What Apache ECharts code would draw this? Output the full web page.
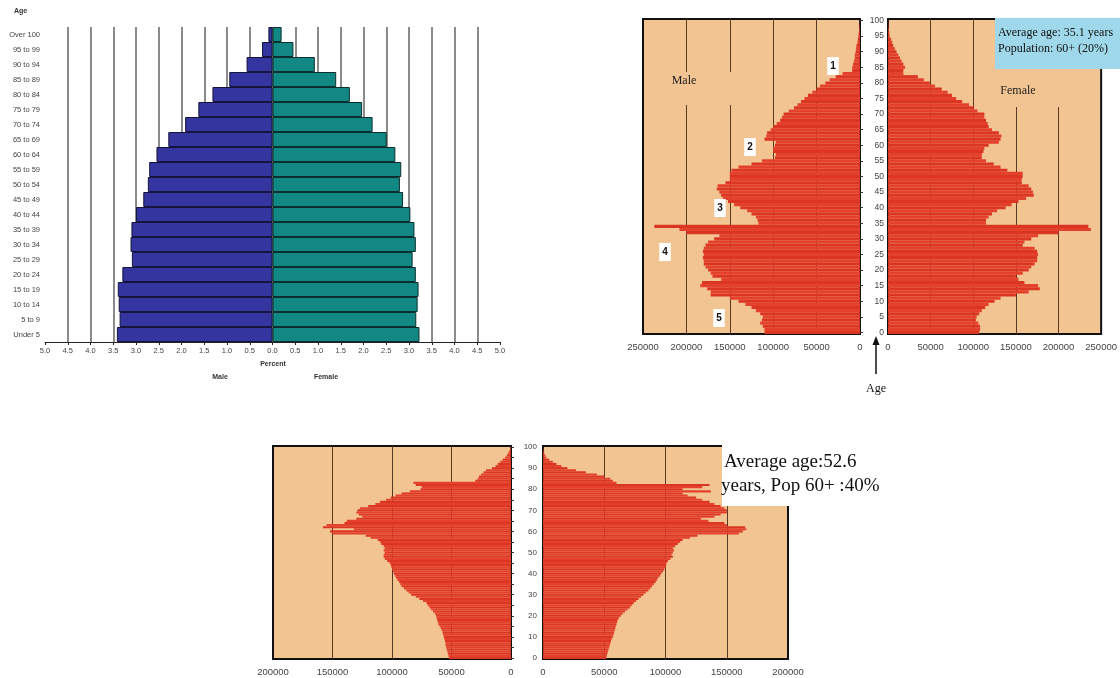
<!DOCTYPE html>
<html>
<head>
<meta charset="utf-8">
<script src="https://cdn.jsdelivr.net/npm/echarts@6/dist/echarts.min.js"></script>
<style>html,body{margin:0;padding:0;background:#fff}#c{width:1120px;height:678px}</style>
</head>
<body>
<div id="c"></div>
<script>
// ---------- Chart 1: percent pyramid (5-year groups) ----------
const ageGroups = ['Under 5','5 to 9','10 to 14','15 to 19','20 to 24','25 to 29','30 to 34','35 to 39','40 to 44','45 to 49','50 to 54','55 to 59','60 to 64','65 to 69','70 to 74','75 to 79','80 to 84','85 to 89','90 to 94','95 to 99','Over 100'];
const malePct   = [3.42,3.36,3.38,3.40,3.30,3.09,3.12,3.10,3.00,2.84,2.74,2.71,2.55,2.29,1.92,1.63,1.32,0.95,0.57,0.23,0.09];
const femalePct = [3.23,3.16,3.19,3.21,3.15,3.08,3.15,3.12,3.03,2.87,2.80,2.83,2.70,2.51,2.20,1.97,1.70,1.40,0.93,0.46,0.20];

// ---------- single-year ages 0..100 ----------
const singleAges = Array.from({length:101}, (_, i) => String(i));

// ---------- Chart 2: population by single year (avg age 35.1) ----------
const male2 = [110000,110000,112000,115000,113000,112000,115000,120000,125000,132000,
  140000,150000,172000,172000,176000,184000,182000,160000,170000,172000,
  175000,178000,180000,180000,181000,180000,181000,180000,178000,175000,
  168000,162000,200000,208000,237000,117000,118000,120000,125000,130000,
  138000,145000,152000,158000,160000,162000,165000,164000,155000,150000,
  150000,150000,148000,140000,125000,113000,98000,97000,100000,100000,
  98000,97000,110000,108000,107000,103000,100000,96000,92000,90000,
  88000,82000,76000,72000,68000,64000,60000,55000,50000,46000,
  40000,35000,28000,20000,9000,9000,8000,7000,6000,6000,
  5000,4500,4000,3000,2500,2000,1500,1000,600,300,100];
const female2 = [107000,108000,108000,106000,103000,104000,107000,110000,114000,118000,
  125000,132000,150000,165000,178000,176000,160000,153000,150000,158000,
  165000,168000,172000,175000,175000,176000,175000,172000,158000,160000,
  168000,176000,200000,238000,235000,115000,115000,118000,122000,128000,
  138000,145000,153000,162000,171000,170000,168000,165000,157000,157000,
  158000,158000,140000,132000,124000,115000,110000,110000,112000,113000,
  118000,130000,132000,133000,130000,122000,118000,117000,115000,113000,
  113000,105000,101000,95000,87000,80000,75000,70000,63000,55000,
  49000,42000,35000,18000,18000,20000,18000,16000,14000,12000,
  10000,8000,6000,5000,3500,2000,1500,1000,500,300,100];

// ---------- Chart 3: population by single year (avg age 52.6) ----------
const male3 = [52000,52500,53000,53500,54000,54500,55000,55000,55500,56000,
  56500,57000,57500,58000,59000,60000,61000,61500,62000,62500,
  63000,64000,65500,67000,68500,70000,71000,74000,77000,80000,
  84000,86000,88000,90000,92000,93000,94000,95500,96500,97500,
  98500,99000,100000,100500,101000,102000,104000,106000,107000,107000,
  106000,107000,106000,107000,109000,110000,112000,118000,122000,150000,
  152000,132000,158000,155000,140000,138000,130000,125000,128000,130000,
  129000,127000,120000,114000,110000,105000,101000,97000,92000,85000,
  76000,75000,80000,82000,30000,28000,27000,25000,23000,21000,
  16000,13000,11000,9000,7000,5000,3500,2500,1500,700,200];
const female3 = [51500,52000,52500,53000,53500,54000,54500,55000,55500,56000,
  57000,57500,58000,58500,59000,59500,60000,60500,61000,62000,
  63500,65000,67000,69000,71000,72500,74000,76000,78000,80000,
  82000,84000,86000,87500,89000,90500,92000,93000,94000,95500,
  96500,98000,99000,100000,100500,101000,102000,104000,106000,105000,
  106000,107000,106000,108000,110000,112000,114000,120000,126000,160000,
  163000,166000,165000,150000,148000,135000,129000,140000,145000,150000,
  150000,148000,145000,140000,136000,130000,125000,118000,114000,137000,
  114000,130000,136000,60000,57000,55000,50000,44000,35000,27000,
  20000,15000,11000,8000,5000,2700,1800,1000,500,200,50];

const PEACH = '#f2c492';
const RED_A = '#e4412c', RED_B = '#db3523';
const redStripe = p => (p.dataIndex % 2 ? RED_A : RED_B);
const SANS = 'Liberation Sans, Arial, sans-serif';
const SERIF = 'Liberation Serif, Times New Roman, serif';

const chart = echarts.init(document.getElementById('c'));

function popX(grid, inverse, max) {
  return {
    type:'value', gridIndex:grid, inverse:inverse, min:0, max:max, interval:50000,
    axisLine:{show:false}, axisTick:{show:false},
    axisLabel:{fontFamily:SANS, fontSize:9.5, color:'#444', margin:8, formatter:v => String(v)},
    splitLine:{show:true, showMinLine:false, showMaxLine:false, lineStyle:{color:'#5a3a1e', width:1}}
  };
}
function popGrid(left, top, width, height) {
  return {left:left, top:top, width:width, height:height, show:true, backgroundColor:PEACH, borderColor:'#111', borderWidth:2, containLabel:false};
}
function redSeries(xi, data) {
  return {type:'bar', xAxisIndex:xi, yAxisIndex:xi, barWidth:'100%', data:data,
    itemStyle:{color:redStripe, borderWidth:0}};
}

const option = {
  animation:false,
  backgroundColor:'#ffffff',
  grid:[
    {left:45, top:27, width:455, height:315},
    popGrid(643, 19, 217, 315),
    popGrid(888, 19, 215, 315),
    popGrid(273, 446, 238, 213),
    popGrid(543, 446, 245, 213)
  ],
  xAxis:[
    {type:'value', gridIndex:0, min:-5, max:5, interval:0.5,
     axisLine:{show:true, lineStyle:{color:'#222', width:1}},
     axisTick:{show:true, length:3, lineStyle:{color:'#222'}},
     axisLabel:{fontFamily:SANS, fontSize:7.5, color:'#444', margin:5, formatter:v => Math.abs(v).toFixed(1)},
     splitLine:{show:true, showMinLine:false, showMaxLine:false, lineStyle:{color:'#8a8a8a', width:2}}},
    popX(1, true, 250000),
    popX(2, false, 250000),
    popX(3, true, 200000),
    popX(4, false, 200000)
  ],
  yAxis:[
    {type:'category', gridIndex:0, data:ageGroups,
     axisLine:{show:false}, axisTick:{show:false},
     axisLabel:{fontFamily:SANS, fontSize:7.5, color:'#444', margin:5}},
    {type:'category', gridIndex:1, data:singleAges, position:'right',
     axisLine:{show:false}, axisLabel:{show:false},
     axisTick:{show:true, interval:4, length:3, alignWithLabel:true, lineStyle:{color:'#333'}}},
    {type:'category', gridIndex:2, data:singleAges, position:'left',
     axisLine:{show:true, lineStyle:{color:'#111', width:2}}, axisTick:{show:false},
     axisLabel:{interval:4, fontFamily:SANS, fontSize:8.5, color:'#444', margin:4}},
    {type:'category', gridIndex:3, data:singleAges, position:'right',
     axisLine:{show:false}, axisLabel:{show:false},
     axisTick:{show:true, interval:4, length:3, alignWithLabel:true, lineStyle:{color:'#333'}}},
    {type:'category', gridIndex:4, data:singleAges, position:'left',
     axisLine:{show:true, lineStyle:{color:'#111', width:2}}, axisTick:{show:false},
     axisLabel:{interval:9, fontFamily:SANS, fontSize:8, color:'#444', margin:6}}
  ],
  series:[
    {type:'bar', xAxisIndex:0, yAxisIndex:0, stack:'p', barWidth:'100%', data:malePct.map(v => -v),
     itemStyle:{color:'#3535a0', borderColor:'#14143c', borderWidth:1}},
    {type:'bar', xAxisIndex:0, yAxisIndex:0, stack:'p', barWidth:'100%', data:femalePct,
     itemStyle:{color:'#128884', borderColor:'#0d2e2e', borderWidth:1}},
    redSeries(1, male2),
    redSeries(2, female2),
    redSeries(3, male3),
    redSeries(4, female3)
  ],
  graphic:[
    // chart 1 texts
    {type:'text', left:14, top:8, style:{text:'Age', font:'bold 7px '+SANS, fill:'#333'}},
    {type:'text', x:273, y:364, style:{text:'Percent', font:'bold 7px '+SANS, fill:'#333', align:'center', verticalAlign:'middle'}},
    {type:'text', x:220, y:377, style:{text:'Male', font:'bold 7px '+SANS, fill:'#333', align:'center', verticalAlign:'middle'}},
    {type:'text', x:326, y:377, style:{text:'Female', font:'bold 7px '+SANS, fill:'#333', align:'center', verticalAlign:'middle'}},
    // chart 2 labels
    {type:'rect', shape:{x:664, y:72, width:76, height:33}, style:{fill:PEACH}, z:100},
    {type:'text', x:684, y:81, z:101, style:{text:'Male', font:'12px '+SERIF, fill:'#222', align:'center', verticalAlign:'middle'}},
    {type:'rect', shape:{x:1000, y:69, width:72, height:38}, style:{fill:PEACH}, z:100},
    {type:'text', x:1018, y:91, z:101, style:{text:'Female', font:'12px '+SERIF, fill:'#222', align:'center', verticalAlign:'middle'}},
    {type:'rect', shape:{x:995, y:18, width:125, height:51}, style:{fill:'#9fd8ea'}, z:100},
    {type:'text', x:998, y:33, z:101, style:{text:'Average age: 35.1 years', font:'12px '+SERIF, fill:'#111', verticalAlign:'middle'}},
    {type:'text', x:998, y:49, z:101, style:{text:'Population: 60+ (20%)', font:'12px '+SERIF, fill:'#111', verticalAlign:'middle'}},
    {type:'text', x:833, y:66, z:101, style:{text:'1', font:'bold 10px '+SANS, fill:'#111', align:'center', verticalAlign:'middle', backgroundColor:'#fff', padding:[4,3,4,3]}},
    {type:'text', x:750, y:147, z:101, style:{text:'2', font:'bold 10px '+SANS, fill:'#111', align:'center', verticalAlign:'middle', backgroundColor:'#fff', padding:[4,3,4,3]}},
    {type:'text', x:720, y:208, z:101, style:{text:'3', font:'bold 10px '+SANS, fill:'#111', align:'center', verticalAlign:'middle', backgroundColor:'#fff', padding:[4,3,4,3]}},
    {type:'text', x:665, y:252, z:101, style:{text:'4', font:'bold 10px '+SANS, fill:'#111', align:'center', verticalAlign:'middle', backgroundColor:'#fff', padding:[4,3,4,3]}},
    {type:'text', x:719, y:318, z:101, style:{text:'5', font:'bold 10px '+SANS, fill:'#111', align:'center', verticalAlign:'middle', backgroundColor:'#fff', padding:[4,3,4,3]}},
    {type:'line', shape:{x1:876, y1:374, x2:876, y2:342}, style:{stroke:'#111', lineWidth:1.5}},
    {type:'polygon', shape:{points:[[876,336],[872.5,345],[879.5,345]]}, style:{fill:'#111'}},
    {type:'text', x:876, y:389, style:{text:'Age', font:'12px '+SERIF, fill:'#111', align:'center', verticalAlign:'middle'}},
    // chart 3 info box
    {type:'rect', shape:{x:722, y:444, width:148, height:62}, style:{fill:'#ffffff'}, z:100},
    {type:'text', x:724, y:462, z:101, style:{text:'Average age:52.6', font:'19px '+SERIF, fill:'#111', verticalAlign:'middle'}},
    {type:'text', x:721, y:486, z:101, style:{text:'years, Pop 60+ :40%', font:'19px '+SERIF, fill:'#111', verticalAlign:'middle'}}
  ]
};
chart.setOption(option);
</script>
</body>
</html>
